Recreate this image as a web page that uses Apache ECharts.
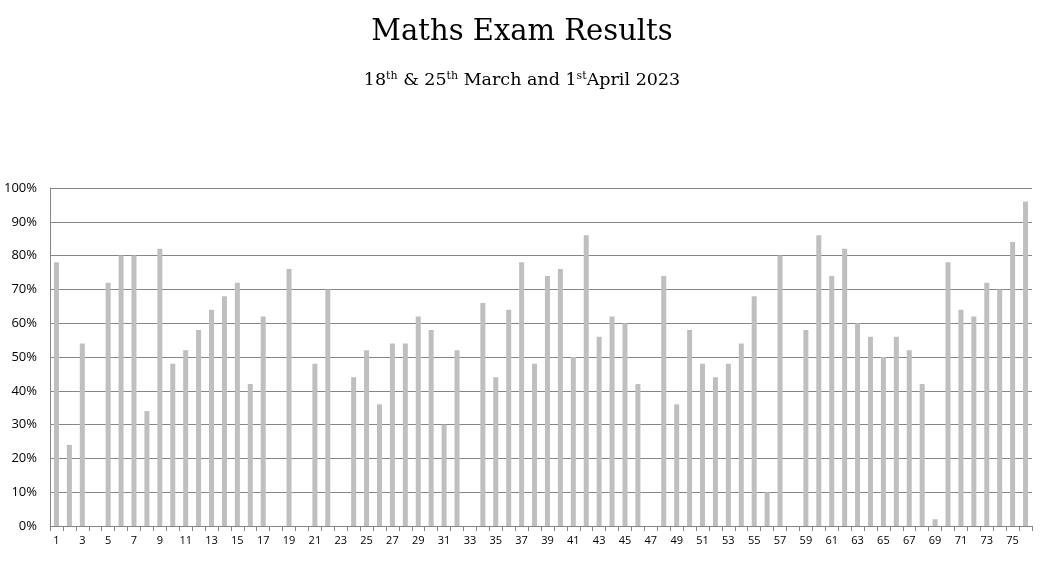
<!DOCTYPE html>
<html><head><meta charset="utf-8">
<script src="https://cdn.jsdelivr.net/npm/echarts@6/dist/echarts.min.js"></script>
<style>html,body{margin:0;padding:0;background:#fff}#c{width:1044px;height:570px}</style>
</head><body><div id="c"></div>
<script>
const students = Array.from({length:76},(_,i)=>String(i+1));
const scores = [78,24,54,0,72,80,80,34,82,48,52,58,64,68,72,42,62,0,76,0,48,70,0,44,52,36,54,54,62,58,30,52,0,66,44,64,78,48,74,76,50,86,56,62,60,42,0,74,36,58,48,44,48,54,68,10,80,0,58,86,74,82,60,56,50,56,52,42,2,78,64,62,72,70,84,96];
const yTicks = [0,10,20,30,40,50,60,70,80,90,100];
const chart = echarts.init(document.getElementById('c'));
chart.setOption({
  animation:false,
  title:[
    {text:'Maths Exam Results',left:'center',top:13,textStyle:{fontFamily:'DejaVu Serif',fontSize:29,fontWeight:'normal',color:'#000'}},
    {text:'18{s|th} & 25{s|th} March and 1{s|st}April 2023',left:'center',top:66,
     textStyle:{fontFamily:'DejaVu Serif',fontSize:17.5,fontWeight:'normal',color:'#000',
       rich:{s:{fontFamily:'DejaVu Serif',fontSize:11,fontWeight:'normal',verticalAlign:'top',padding:[0,0,8,0],color:'#000'}}}}
  ],
  grid:{left:50,right:12,top:188,bottom:44},
  xAxis:{type:'category',data:students,
    axisLine:{lineStyle:{color:'#868686'}},
    axisTick:{show:true,interval:0,length:5,lineStyle:{color:'#868686'}},
    axisLabel:{interval:1,color:'#000',fontSize:11,fontFamily:'Open Sans',margin:9}},
  yAxis:{type:'value',min:0,max:100,interval:10,
    axisLine:{show:true,lineStyle:{color:'#868686'}},
    axisTick:{show:false},
    splitLine:{lineStyle:{color:'#868686'}},
    axisLabel:{formatter:v=>v+'%',color:'#000',fontSize:13,fontFamily:'Open Sans',margin:13}},
  series:[{type:'bar',data:scores,barWidth:5,itemStyle:{color:'#bfbfbf'}}]
});
</script></body></html>
